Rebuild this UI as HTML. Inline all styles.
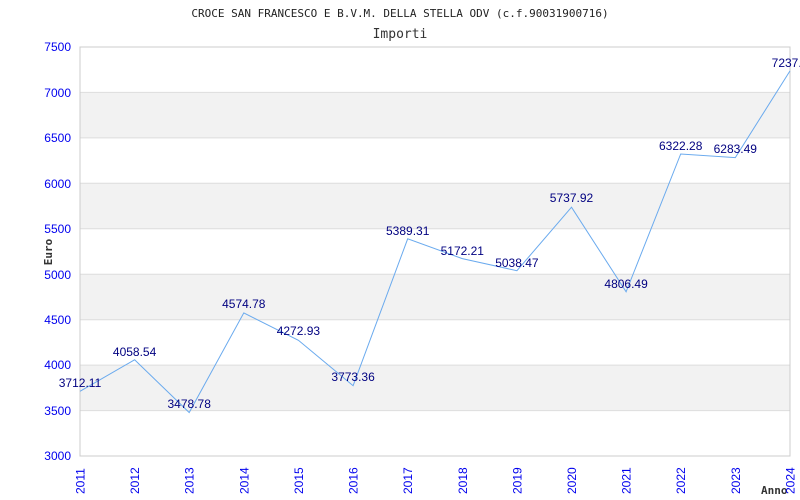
<!DOCTYPE html>
<html><head><meta charset="utf-8"><style>
body{margin:0;background:#fff;}
svg{display:block;}
</style></head><body>
<svg width="800" height="500" xmlns="http://www.w3.org/2000/svg">
<rect width="800" height="500" fill="#fff"/>
<text x="400" y="17" text-anchor="middle" font-family="DejaVu Sans Mono, monospace" font-size="11" fill="#222">CROCE SAN FRANCESCO E B.V.M. DELLA STELLA ODV (c.f.90031900716)</text>
<text x="400" y="38" text-anchor="middle" font-family="DejaVu Sans Mono, monospace" font-size="13" fill="#333">Importi</text>
<g fill="#f2f2f2">
<rect x="80" y="92.4" width="710" height="45.4"/>
<rect x="80" y="183.3" width="710" height="45.4"/>
<rect x="80" y="274.2" width="710" height="45.4"/>
<rect x="80" y="365.1" width="710" height="45.4"/>
</g>
<g stroke="#ddd" stroke-width="1">
<line x1="80" y1="92.4" x2="790" y2="92.4"/>
<line x1="80" y1="137.9" x2="790" y2="137.9"/>
<line x1="80" y1="183.3" x2="790" y2="183.3"/>
<line x1="80" y1="228.8" x2="790" y2="228.8"/>
<line x1="80" y1="274.2" x2="790" y2="274.2"/>
<line x1="80" y1="319.7" x2="790" y2="319.7"/>
<line x1="80" y1="365.1" x2="790" y2="365.1"/>
<line x1="80" y1="410.6" x2="790" y2="410.6"/>
</g>
<rect x="80" y="47" width="710" height="409" fill="none" stroke="#ccc"/>
<g font-family="Liberation Sans, sans-serif" font-size="12" fill="#0000ee" text-anchor="end">
<text x="71" y="51">7500</text><text x="71" y="97">7000</text><text x="71" y="142">6500</text>
<text x="71" y="188">6000</text><text x="71" y="233">5500</text><text x="71" y="279">5000</text>
<text x="71" y="324">4500</text><text x="71" y="369">4000</text><text x="71" y="415">3500</text>
<text x="71" y="460">3000</text>
</g>
<text transform="translate(52,252) rotate(-90)" text-anchor="middle" font-family="DejaVu Sans Mono, monospace" font-size="11" font-weight="bold" fill="#333">Euro</text>
<text x="761" y="494" font-family="DejaVu Sans Mono, monospace" font-size="11" font-weight="bold" fill="#333">Anno</text>
<g font-family="Liberation Sans, sans-serif" font-size="12" fill="#0000ee">
<text transform="translate(84.5,494) rotate(-90)">2011</text>
<text transform="translate(139.1,494) rotate(-90)">2012</text>
<text transform="translate(193.7,494) rotate(-90)">2013</text>
<text transform="translate(248.3,494) rotate(-90)">2014</text>
<text transform="translate(302.9,494) rotate(-90)">2015</text>
<text transform="translate(357.5,494) rotate(-90)">2016</text>
<text transform="translate(412.2,494) rotate(-90)">2017</text>
<text transform="translate(466.8,494) rotate(-90)">2018</text>
<text transform="translate(521.4,494) rotate(-90)">2019</text>
<text transform="translate(576,494) rotate(-90)">2020</text>
<text transform="translate(630.6,494) rotate(-90)">2021</text>
<text transform="translate(685.2,494) rotate(-90)">2022</text>
<text transform="translate(739.8,494) rotate(-90)">2023</text>
<text transform="translate(794.4,494) rotate(-90)">2024</text>
</g>
<polyline fill="none" stroke="#6aaaee" stroke-width="1" points="80,391.3 134.6,359.8 189.2,412.5 243.8,312.9 298.4,340.3 353.1,385.7 407.7,238.8 462.3,258.6 516.9,270.7 571.5,207.2 626.1,291.8 680.7,154 735.3,157.6 790,70.9"/>
<g font-family="Liberation Sans, sans-serif" font-size="12" fill="#000080" text-anchor="middle">
<text x="80" y="387">3712.11</text>
<text x="134.6" y="356">4058.54</text>
<text x="189.2" y="408">3478.78</text>
<text x="243.8" y="308">4574.78</text>
<text x="298.4" y="335">4272.93</text>
<text x="353.1" y="381">3773.36</text>
<text x="407.7" y="235">5389.31</text>
<text x="462.3" y="255">5172.21</text>
<text x="516.9" y="267">5038.47</text>
<text x="571.5" y="202">5737.92</text>
<text x="626.1" y="288">4806.49</text>
<text x="680.7" y="150">6322.28</text>
<text x="735.3" y="153">6283.49</text>
<text x="790" y="67">7237.2</text>
</g>
</svg>
</body></html>
